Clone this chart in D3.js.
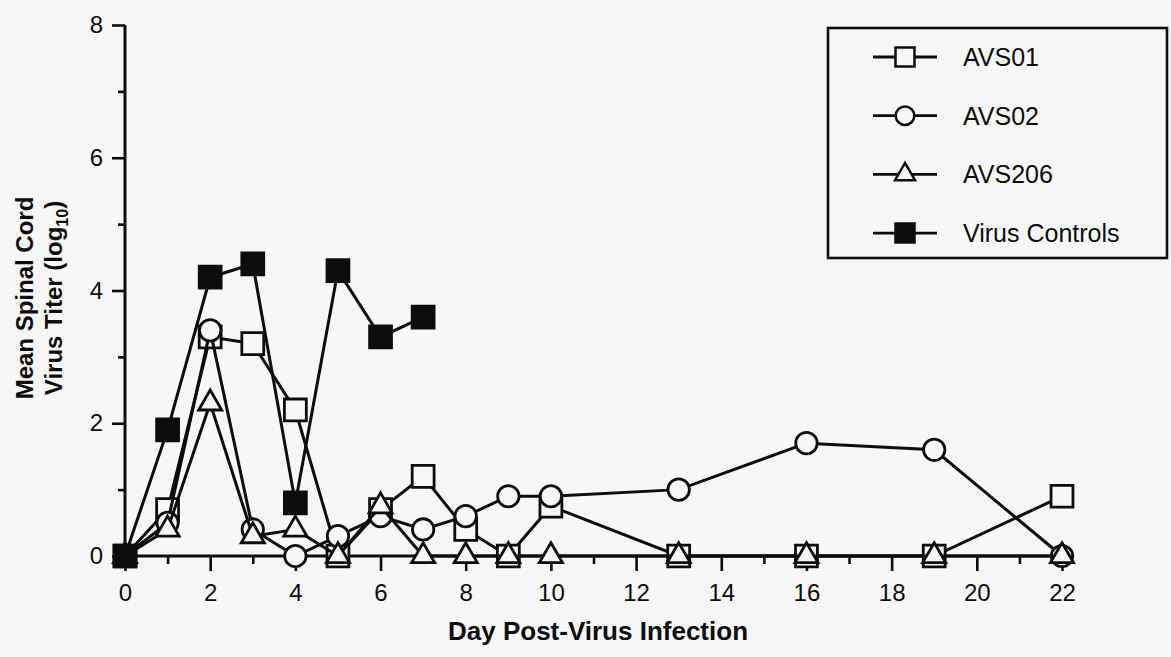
<!DOCTYPE html>
<html>
<head>
<meta charset="utf-8">
<script src="https://cdn.jsdelivr.net/npm/d3@7"></script>
<style>
  body { margin: 0; background: #f7f7f7; }
  svg { display: block; font-family: "Liberation Sans", Arial, Helvetica, sans-serif; }
</style>
</head>
<body>
<div id="chart"></div>
<script>
// days sampled for the treatment groups and for the controls
var days = [0, 1, 2, 3, 4, 5, 6, 7, 8, 9, 10, 13, 16, 19, 22];
var control_days = [0, 1, 2, 3, 4, 5, 6, 7];

// mean spinal cord virus titer (log10)
var avs01 = [0, 0.7, 3.3, 3.2, 2.2, 0, 0.7, 1.2, 0.4, 0, 0.75, 0, 0, 0, 0.9];
var avs02 = [0, 0.5, 3.4, 0.4, 0, 0.3, 0.6, 0.4, 0.6, 0.9, 0.9, 1.0, 1.7, 1.6, 0];
var avs206 = [0, 0.4, 2.3, 0.3, 0.4, 0, 0.75, 0, 0, 0, 0, 0, 0, 0, 0];
var controls = [0, 1.9, 4.2, 4.4, 0.8, 4.3, 3.3, 3.6];

var series_names = ['AVS01', 'AVS02', 'AVS206', 'Virus Controls'];

var x_ticks = [0, 2, 4, 6, 8, 10, 12, 14, 16, 18, 20, 22];
var y_ticks = [0, 2, 4, 6, 8];

var width = 1171;
var height = 657;
var ink = '#0d0d0d';
var paper = '#f7f7f7';

var svg = d3.select('#chart')
    .append('svg')
    .attr('width', width)
    .attr('height', height);

var x_scale = d3.scaleLinear().domain([0, 22]).range([125, 1062]);
var y_scale = d3.scaleLinear().domain([0, 8]).range([556, 25]);

var series = [
    {name: series_names[0], x: days, y: avs01, shape: d3.symbolSquare, size: 480, fill: paper},
    {name: series_names[1], x: days, y: avs02, shape: d3.symbolCircle, size: 360, fill: paper},
    {name: series_names[2], x: days, y: avs206, shape: d3.symbolTriangle, size: 230, fill: paper},
    {name: series_names[3], x: control_days, y: controls, shape: d3.symbolSquare, size: 480, fill: ink}
];

// axes: majors with labels, minors without
var x_axis = d3.axisBottom(x_scale).tickValues(x_ticks).tickSize(15).tickPadding(13);
var x_minor = d3.axisBottom(x_scale).tickValues(d3.range(1, 22, 2)).tickSize(8).tickFormat('');
var y_axis = d3.axisLeft(y_scale).tickValues(y_ticks).tickSize(13).tickPadding(9);
var y_minor = d3.axisLeft(y_scale).tickValues([1, 3, 5, 7]).tickSize(7).tickFormat('');

function style_axis(g) {
    g.select('.domain').remove();
    g.selectAll('line').attr('stroke', ink).attr('stroke-width', 2.6);
    g.selectAll('text').attr('fill', ink).attr('font-size', '24px');
}

svg.append('g').attr('transform', 'translate(0,' + y_scale(0) + ')').call(x_axis).call(style_axis);
svg.append('g').attr('transform', 'translate(0,' + y_scale(0) + ')').call(x_minor).call(style_axis);
svg.append('g').attr('transform', 'translate(' + x_scale(0) + ',0)').call(y_axis).call(style_axis);
svg.append('g').attr('transform', 'translate(' + x_scale(0) + ',0)').call(y_minor).call(style_axis);

svg.append('line')
    .attr('x1', x_scale(0)).attr('x2', x_scale(0))
    .attr('y1', y_scale(8)).attr('y2', y_scale(0) + 1)
    .attr('stroke', ink).attr('stroke-width', 3);
svg.append('line')
    .attr('x1', x_scale(0)).attr('x2', x_scale(22))
    .attr('y1', y_scale(0)).attr('y2', y_scale(0))
    .attr('stroke', ink).attr('stroke-width', 3);

// axis titles
svg.append('text')
    .attr('x', 598).attr('y', 640)
    .attr('text-anchor', 'middle')
    .attr('font-size', '26px').attr('font-weight', 'bold')
    .attr('fill', ink)
    .text('Day Post-Virus Infection');

var y_title = svg.append('g')
    .attr('transform', 'translate(0,298) rotate(-90)')
    .attr('font-size', '24px').attr('font-weight', 'bold')
    .attr('fill', ink)
    .attr('text-anchor', 'middle');
y_title.append('text').attr('x', 0).attr('y', 33).text('Mean Spinal Cord');
var line2 = y_title.append('text').attr('x', 0).attr('y', 62);
line2.append('tspan').text('Virus Titer (log');
line2.append('tspan').attr('font-size', '16px').attr('dy', 6).text('10');
line2.append('tspan').attr('dy', -6).text(')');

// data lines and markers
var line = d3.line()
    .x(function(d){ return x_scale(d[0]); })
    .y(function(d){ return y_scale(d[1]); });

series.forEach(function(s) {
    var pts = s.x.map(function(d, i){ return [d, s.y[i]]; });
    svg.append('path')
        .datum(pts)
        .attr('d', line)
        .attr('fill', 'none')
        .attr('stroke', ink)
        .attr('stroke-width', 3);
    svg.append('g').selectAll('path')
        .data(pts)
        .enter()
        .append('path')
        .attr('transform', function(d){ return 'translate(' + x_scale(d[0]) + ',' + y_scale(d[1]) + ')'; })
        .attr('d', d3.symbol().type(s.shape).size(s.size))
        .attr('fill', s.fill)
        .attr('stroke', ink)
        .attr('stroke-width', 2.8);
});

// legend
var legend = svg.append('g');
legend.append('rect')
    .attr('x', 828).attr('y', 28)
    .attr('width', 339).attr('height', 230)
    .attr('fill', 'none')
    .attr('stroke', ink)
    .attr('stroke-width', 2.6);

var rows = legend.selectAll('g.row')
    .data(series)
    .enter()
    .append('g')
    .attr('class', 'row')
    .attr('transform', function(d, i){ return 'translate(0,' + (57 + i * 58.7) + ')'; });

rows.append('line')
    .attr('x1', 873).attr('x2', 937)
    .attr('stroke', ink).attr('stroke-width', 2.8);
rows.append('path')
    .attr('transform', 'translate(905,0)')
    .attr('d', function(d){ return d3.symbol().type(d.shape).size(d.size * 0.75)(); })
    .attr('fill', function(d){ return d.fill; })
    .attr('stroke', ink)
    .attr('stroke-width', 2.5);
rows.append('text')
    .attr('x', 963).attr('y', 9)
    .attr('font-size', '25px')
    .attr('fill', ink)
    .text(function(d){ return d.name; });
</script>
</body>
</html>
